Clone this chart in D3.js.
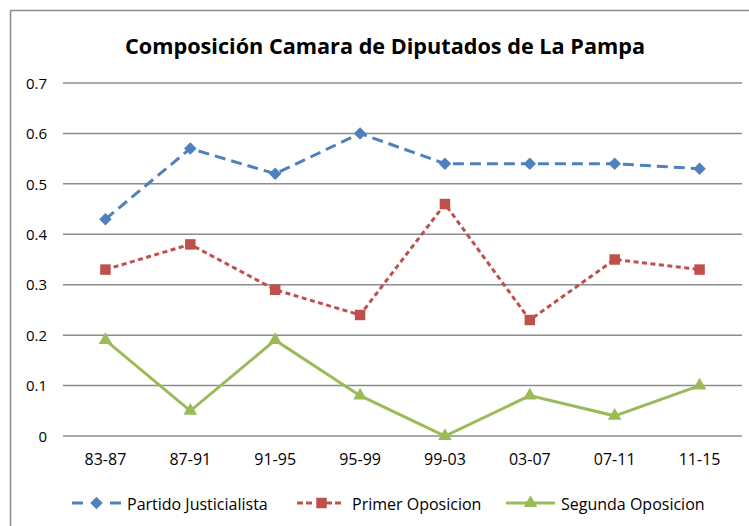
<!DOCTYPE html>
<html>
<head>
<meta charset="utf-8">
<script src="https://cdn.jsdelivr.net/npm/d3@7"></script>
<style>
  body { margin: 0; background: #fff; }
  svg text { font-family: "Open Sans", "Liberation Sans", sans-serif; fill: #000; }
</style>
</head>
<body>
<svg id="chart" width="749" height="526"></svg>
<script>
// periods on the x axis
var periods = ["83-87", "87-91", "91-95", "95-99", "99-03", "03-07", "07-11", "11-15"];
var yTicks = [0, 0.1, 0.2, 0.3, 0.4, 0.5, 0.6, 0.7];

// share of seats per period
var justicialista = [0.43, 0.57, 0.52, 0.60, 0.54, 0.54, 0.54, 0.53];
var primerOposicion = [0.33, 0.38, 0.29, 0.24, 0.46, 0.23, 0.35, 0.33];
var segundaOposicion = [0.19, 0.05, 0.19, 0.08, 0.00, 0.08, 0.04, 0.10];

var seriesNames = ["Partido Justicialista", "Primer Oposicion", "Segunda Oposicion"];

var svg = d3.select("#chart"),
    margin = {top: 83, right: 7, bottom: 90, left: 63},
    width = +svg.attr("width") - margin.left - margin.right,
    height = +svg.attr("height") - margin.top - margin.bottom;

// outer chart border (right and bottom run off the picture)
svg.append("rect")
    .attr("x", 10.5).attr("y", 10.5)
    .attr("width", 760).attr("height", 540)
    .attr("fill", "none").attr("stroke", "#8c8c8c").attr("stroke-width", 1.5);

svg.append("text")
    .attr("x", 385).attr("y", 54)
    .attr("text-anchor", "middle")
    .style("font-size", "22px").style("font-weight", "bold")
    .attr("textLength", 520).attr("lengthAdjust", "spacingAndGlyphs")
    .text("Composición Camara de Diputados de La Pampa");

var g = svg.append("g").attr("transform", "translate(" + margin.left + "," + margin.top + ")");

var xScale = d3.scaleBand().domain(periods).range([0, width]);
var yScale = d3.scaleLinear().domain([0, 0.7]).range([height, 0]);

// gridlines
g.selectAll(".grid").data(yTicks).enter()
    .append("line")
    .attr("x1", 0).attr("x2", width)
    .attr("y1", function(d) { return yScale(d); })
    .attr("y2", function(d) { return yScale(d); })
    .attr("stroke", "#8c8c8c").attr("stroke-width", 1.5);

// y axis labels
var yAxis = d3.axisLeft(yScale).tickValues(yTicks).tickSize(0).tickPadding(16)
    .tickFormat(function(d) { return d === 0 ? "0" : d3.format(".1f")(d); });
var yG = g.append("g").call(yAxis);
yG.select(".domain").remove();
yG.selectAll("text").style("font-size", "15px").attr("dy", "0.35em");

// x axis labels
var xAxis = d3.axisBottom(xScale).tickSize(0).tickPadding(18);
var xG = g.append("g").attr("transform", "translate(0," + height + ")").call(xAxis);
xG.select(".domain").remove();
xG.selectAll("text").style("font-size", "16px");

// diamond drawn as a square turned 45 degrees
var series = [
    {name: seriesNames[0], values: justicialista, color: "#4f81bd", dash: "11,6", marker: d3.symbolSquare, size: 78, rot: 45},
    {name: seriesNames[1], values: primerOposicion, color: "#c0504d", dash: "5,3.5", marker: d3.symbolSquare, size: 110, rot: 0},
    {name: seriesNames[2], values: segundaOposicion, color: "#9bbb59", dash: null, marker: d3.symbolTriangle, size: 80, rot: 0}
];

var line = d3.line()
    .x(function(d, i) { return xScale(periods[i]) + xScale.bandwidth() / 2; })
    .y(function(d) { return yScale(d); });

series.forEach(function(s) {
    g.append("path")
        .datum(s.values)
        .attr("d", line)
        .attr("fill", "none")
        .attr("stroke", s.color)
        .attr("stroke-width", 3)
        .attr("stroke-dasharray", s.dash);

    g.selectAll(null).data(s.values).enter()
        .append("path")
        .attr("d", d3.symbol().type(s.marker).size(s.size))
        .attr("transform", function(d, i) {
            return "translate(" + (xScale(periods[i]) + xScale.bandwidth() / 2) + "," + yScale(d) + ") rotate(" + s.rot + ")";
        })
        .attr("fill", s.color);
});

// legend
var legendTextX = [127, 352, 561];
var legendDash = ["11,27,11", "6,3,6,14,6,3,6", null];
var legend = svg.selectAll(".legend").data(series).enter()
    .append("g")
    .attr("transform", function(d, i) { return "translate(" + legendTextX[i] + ",503)"; });

legend.append("line")
    .attr("x1", -55).attr("x2", -6).attr("y1", 0).attr("y2", 0)
    .attr("stroke", function(d) { return d.color; })
    .attr("stroke-width", 3)
    .attr("stroke-dasharray", function(d, i) { return legendDash[i]; });

legend.append("path")
    .attr("d", function(d) { return d3.symbol().type(d.marker).size(d.size)(); })
    .attr("transform", function(d) { return "translate(-30.5,0) rotate(" + d.rot + ")"; })
    .attr("fill", function(d) { return d.color; });

legend.append("text")
    .attr("x", 0).attr("y", 1).attr("dy", "0.35em")
    .style("font-size", "16px")
    .text(function(d) { return d.name; });
</script>
</body>
</html>
